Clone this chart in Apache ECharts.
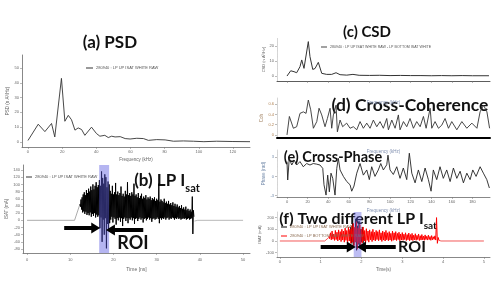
<!DOCTYPE html>
<html><head><meta charset="utf-8">
<script src="https://cdn.jsdelivr.net/npm/echarts@6/dist/echarts.min.js"></script>
<style>html,body{margin:0;padding:0;background:#fff}#c{width:498px;height:287px}</style>
</head><body><div id="c"></div>
<script>
// ---------- (a) PSD ----------
const psdF = [0,6,9.9,13.8,15.7,19.6,21.6,23.6,25.5,27.5,29.4,31.4,33.3,37.2,40.1,42.1,45,47,49,51,54,56.9,59.8,63.7,67.6,70.5,75.4,80.3,85.2,91,96.9,103,110.5,120,130];
const psdV = [1,12,7,12.5,3.4,43,14,18,15,8,9.5,8.4,4.5,10,5.7,3.9,4.5,3,3.9,3.4,3.6,2.3,2,2.5,2.3,1.1,1.6,1.4,0.5,0.7,0.5,0.2,0.5,0.3,0.2];
const psdTicksX = [0,20,40,60,80,100,120];
const psdTicksY = [0,10,20,30,40,50];

// ---------- (b) LP Isat ----------
const bPreT = [0,4.8,4.9,5.0,11,12.25];
const bPreV = [0,0,1.5,0,0,45];
const bBandStart = 12.25, bBandStep = 0.25;
const bHi = [45,58,64,72, 78,70,84,76, 88,80,94,84, 100,86,96,106, 92,98,112,96, 136,118,102,128, 120,92,108,100, 82,74,96,72, 78,104,72,80, 70,76,94,68, 74,66,82,72, 106,70,76,68, 78,72,102,68, 72,64,76,62, 68,74,60,66, 62,70,58,64, 60,66,56,62, 58,64,54,60, 56,102,52,58, 54,50,60,48, 52,46,54,44, 48,42,50,40, 46,38,44,36, 40,34,42,32, 36,30,38,28, 32,26,30,24, 66,28];
const bLo = [38,30,22,25, 18,24,15,20, 14,22,10,18, 12,20,8,16, 10,14,-22,8, -60,2,-40,6, -78,-10,-30,-8, 2,10,-6,8, 4,-12,6,0, 8,-4,6,-16, 4,8,-2,6, -8,6,2,8, 0,6,-10,4, 6,-2,4,8, 2,6,-6,4, 6,0,4,8, 2,6,-4,4, 6,2,4,8, 4,-8,6,2, 6,4,8,2, 6,8,2,6, 4,8,6,2, 6,4,8,4, 6,2,4,6, 4,6,2,4, 6,2,4,6, -38,10];
const bPostT = [38.75,39.0,39.5,50];
const bPostV = [-2,2,0,0];
const bRoi = [16.7, 19.0];
const bTicksX = [0,10,20,30,40,50];
const bTicksY = [-80,-60,-40,-20,0,20,40,60,80,100,120,140];

// ---------- (c) CSD ----------
const csdF = [0,3.6,6.8,9.4,12.6,14.3,16.5,20.7,22.3,25,27.2,30.4,33.7,38.5,43.4,47.6,51.5,58,64,70,80,90,100,110,120,130,140,150,160,170,180,196];
const csdV = [0,3.5,2.9,2.2,6.2,10.7,5.1,22.9,12.9,4.4,5,9.1,1.8,1.1,1.1,2.2,0.9,0.6,1.1,0.5,0.4,0.5,0.3,0.4,0.3,0.3,0.2,0.3,0.2,0.3,0.2,0.2];
const csdTicksY = [0,10,20];
const freqTicks = [0,20,40,60,80,100,120,140,160,180];

// ---------- (d) Cross-Coherence ----------
const cohF = [0,2.3,6.2,9.4,12.6,15.9,18.5,20.7,23,25.6,28.9,31.1,33.7,36.9,39.2,41.8,43.4,45,47.6,48.9,51.5,54,57.9,61.2,64.4,67.7,70.9,74.1,77.4,80.6,83.8,87.1,90.3,93.5,96.8,98.4,101.7,104.9,108.1,109.7,113,116.2,119.4,122.7,125.9,129.2,132.4,135,138.9,140.5,143.7,147,150.2,153.4,156.7,159.9,164.8,169.7,174.5,179.4,184.3,187.4,190.7,194,196.6];
const cohV = [0,0.36,0.13,0.16,0.42,0.45,0.42,0.68,0.49,0.13,0.26,0.52,0.39,0.16,0.32,0.52,0.13,0.39,0.58,0.06,0.29,0.16,0.23,0.13,0.16,0.1,0.26,0.13,0.23,0.13,0.29,0.16,0.26,0.13,0.32,0.1,0.29,0.13,0.39,0.1,0.26,0.16,0.32,0.13,0.26,0.16,0.36,0.13,0.52,0.13,0.26,0.13,0.19,0.32,0.13,0.26,0.1,0.26,0.13,0.23,0.13,0.45,0.58,0.45,0.13];
const cohTicksY = [0,0.2,0.4,0.6];

// ---------- (e) Cross-Phase ----------
const phF = [0,0.7,2.2,4.6,7.1,9.4,12.6,15.8,19.1,22.3,25.5,28.8,32,34.7,35.9,37.9,39.5,41.1,42.7,44.4,46.6,48.3,49.8,51.5,54.7,58,61.2,62.8,65,67.7,70.9,74.1,77.4,79.9,82.2,85.4,88.6,91,93.5,96.8,98,100,103.2,106.5,109.7,112.9,116.2,118.7,121.1,124.3,127.5,130.8,134,137.2,139.8,142,145.3,148.5,151.7,155,158.3,161.5,164.8,168,171.2,174.5,177.7,180.3,183.5,187.4,190.6,193.9,196.4];
const phV = [2.3,-0.56,2.8,1.77,2.5,1.77,2.3,1.5,2.0,1.77,2.0,1.9,1.77,1.25,-1.3,-2.9,0.2,-2.4,0.5,-0.3,-2.9,1.25,2.8,1.0,0,-0.8,-1.3,-2.3,-1.5,0.5,2.0,0.2,1.0,-0.5,1.5,0,1.0,2.0,1.0,1.8,3.3,1.0,0.3,1.5,-0.3,1.3,-0.5,3.6,0.5,-1.0,1.0,-0.8,1.3,-0.5,-2.3,1.0,-0.5,1.5,-0.3,1.0,-0.8,1.3,-0.3,0.8,-1.0,0.5,-0.5,1.0,0,1.5,0.5,-0.5,-1.8];
const phTicksY = [-3,0,3];

// ---------- (f) Two different LP Isat ----------
const fBlkStart = 1.70, fBlkStep = 0.04;
const fBlkHi = [90,120,150,110,190,130,170,100,120,80];
const fBlkLo = [0,-20,-40,-10,-80,-30,-60,-10,-20,0];
const fPreT = [0,1.1,1.2];
const fPreV = [0,0,30];
const fBandStart = 1.20, fBandStep = 0.04;
const fHi = [40,70,85,60,90, 75,95,80,100,85, 110,90,120,100,130, 150,120,165,110,140, 100,120,90,105,85, 95,80,100,75,90, 80,95,70,85,75, 90,70,80,65,85, 70,80,65,75,60, 72,58,70,55,68, 55,65,50,62,48, 60,45,55,42,52, 40,50,38,46,36, 44,200,30];
const fLo = [20,10,15,5,12, 0,10,-5,8,-10, 5,-15,0,-20,-10, -40,-10,-70,-20,-50, -15,0,-25,5,-10, 10,-5,8,0,12, 2,10,-4,8,0, 10,2,8,-2,6, 10,4,12,2,8, 6,12,4,10,2, 8,4,10,6,12, 4,8,10,6,12, 8,12,6,10,14, 8,-20,5];
const fPostT = [3.9,3.95,5];
const fPostV = [5,0,0];
const fRoi = [1.81, 2.0];
const fTicksX = [0,1,2,3,4,5];
const fTicksY = [-100,0,100,200];

const LEG = {
  psd: '280940 : LP UP ISAT WHITE RAW',
  bband: '280940 : LP UP ISAT WHITE RAW',
  csd: '280940 : LP UP ISAT WHITE RAW - LP BOTTOM ISAT WHITE',
  fblk: '280940 : LP UP ISAT WHITE RAW',
  fred: '280940 : LP BOTTOM ISAT WHITE RAW'
};

function pairs(xs, ys){ const o=[]; for(let i=0;i<Math.min(xs.length,ys.length);i++) o.push([xs[i],ys[i]]); return o; }
function zig(start, step, hi, lo){ const o=[]; for(let i=0;i<Math.min(hi.length,lo.length);i++){ o.push([start+i*step,hi[i]]); o.push([start+i*step+step/2,lo[i]]);} return o; }

const FONT = 'Lato';
const lab = (vals, color, extra) => Object.assign({show:true, customValues: vals, fontSize: 4, color: color||'#666', margin: 3, fontFamily:'Liberation Sans'}, extra||{});
const tick = (vals) => ({show:true, customValues: vals, length: 2, lineStyle:{color:'#777', width:0.5}});
const aline = (c,w,t) => ({show:true, onZero:false, lineStyle:{color:c||'#555', width:w||0.7, type:t||'solid'}});
const nm = (size,color) => ({fontSize:size||4.5, color:color||'#666', fontFamily:'Liberation Sans'});

const chart = echarts.init(document.getElementById('c'), null, {renderer:'canvas'});
const option = {
  animation:false,
  backgroundColor:'#fff',
  grid:[
    {left:22, top:55, width:228, height:92},
    {left:23, top:165, width:227, height:88},
    {left:277, top:38, width:213, height:43},
    {left:277, top:98, width:213, height:40},
    {left:277, top:150, width:213, height:47},
    {left:277, top:212, width:213, height:45}
  ],
  xAxis:[
    {type:'value', gridIndex:0, min:-3.5, max:130, axisLine:aline(), axisTick:tick(psdTicksX), axisLabel:lab(psdTicksX), splitLine:{show:false},
      name:'Frequency (kHz)', nameLocation:'middle', nameGap:10, nameTextStyle:nm(4.5)},
    {type:'value', gridIndex:1, min:-0.93, max:51.6, axisLine:aline(), axisTick:tick(bTicksX), axisLabel:lab(bTicksX,null,{margin:5}), splitLine:{show:false},
      name:'Time [ns]', nameLocation:'middle', nameGap:14, nameTextStyle:nm(5)},
    {type:'value', gridIndex:2, min:-9.7, max:197, axisLine:aline('#333',0.8), axisTick:tick(freqTicks), axisLabel:{show:false}, splitLine:{show:false},
      name:'Frequency (kHz)', nameLocation:'middle', nameGap:19, nameTextStyle:nm(4.5,'#8090b0')},
    {type:'value', gridIndex:3, min:-9.7, max:197, axisLine:aline('#000',2), axisTick:{show:false}, axisLabel:{show:false}, splitLine:{show:false},
      name:'Frequency (kHz)', nameLocation:'middle', nameGap:11, nameTextStyle:nm(4.5,'#8090b0')},
    {type:'value', gridIndex:4, min:-9.7, max:197, axisLine:aline(), axisTick:tick(freqTicks), axisLabel:lab(freqTicks), splitLine:{show:false},
      name:'Frequency (kHz)', nameLocation:'middle', nameGap:11, nameTextStyle:nm(4.5,'#8090b0')},
    {type:'value', gridIndex:5, min:-0.07, max:5.15, axisLine:aline(), axisTick:tick(fTicksX), axisLabel:lab(fTicksX), splitLine:{show:false},
      name:'Time(s)', nameLocation:'middle', nameGap:10, nameTextStyle:nm(4.5)}
  ],
  yAxis:[
    {type:'value', gridIndex:0, min:-3.4, max:58.8, axisLine:aline(), axisTick:tick(psdTicksY), axisLabel:lab(psdTicksY), splitLine:{show:false},
      name:'PSD (n A²/Hz)', nameLocation:'middle', nameGap:11, nameTextStyle:nm(4.5)},
    {type:'value', gridIndex:1, min:-91, max:154, axisLine:aline(), axisTick:tick(bTicksY), axisLabel:lab(bTicksY), splitLine:{show:false},
      name:'ISAT (mA)', nameLocation:'middle', nameGap:14, nameTextStyle:nm(4.5)},
    {type:'value', gridIndex:2, min:-3.3, max:25.3, axisLine:aline('#bbb',0.6,'dotted'), axisTick:tick(csdTicksY), axisLabel:lab(csdTicksY), splitLine:{show:false},
      name:'CSD (n A²/Hz)', nameLocation:'middle', nameGap:10, nameTextStyle:nm(4)},
    {type:'value', gridIndex:3, min:-0.06, max:0.72, axisLine:aline('#bbb',0.6,'dotted'), axisTick:tick(cohTicksY), axisLabel:lab(cohTicksY,'#b08050'), splitLine:{show:false},
      name:'Coh', nameLocation:'middle', nameGap:11, nameTextStyle:nm(4.5,'#a08060')},
    {type:'value', gridIndex:4, min:-3.2, max:4.1, axisLine:aline('#bbb',0.6,'dotted'), axisTick:tick(phTicksY), axisLabel:lab(phTicksY,'#7088a8'), splitLine:{show:false},
      name:'Phase (rad)', nameLocation:'middle', nameGap:10, nameTextStyle:nm(4.5,'#7088a8')},
    {type:'value', gridIndex:5, min:-137, max:248, axisLine:aline('#bbb',0.6,'dotted'), axisTick:tick(fTicksY), axisLabel:lab(fTicksY), splitLine:{show:false},
      name:'ISAT (mA)', nameLocation:'middle', nameGap:11, nameTextStyle:nm(4)}
  ],
  legend:[
    {data:['psd'], left:86, top:66, icon:'rect', itemWidth:7, itemHeight:1, padding:0, formatter:n=>LEG[n], textStyle:{fontSize:4, color:'#555', padding:[0,0,0,-2]}},
    {data:['bband'], left:26, top:175, icon:'rect', itemWidth:6, itemHeight:1, padding:0, formatter:n=>LEG[n], textStyle:{fontSize:4, color:'#555', padding:[0,0,0,-2]}},
    {data:['csd'], left:321, top:45, icon:'rect', itemWidth:6, itemHeight:1, padding:0, formatter:n=>LEG[n], textStyle:{fontSize:3.6, color:'#555', padding:[0,0,0,-2]}},
    {data:['fblk','fred'], left:281, top:225, orient:'vertical', itemGap:5, icon:'rect', itemWidth:6, itemHeight:1, padding:0, formatter:n=>LEG[n], textStyle:{fontSize:4, color:'#8a6a50', padding:[0,0,0,-2]}}
  ],
  series:[
    {name:'psd', type:'line', xAxisIndex:0, yAxisIndex:0, data:pairs(psdF,psdV), showSymbol:false, lineStyle:{color:'#333', width:0.9}, itemStyle:{color:'#333'}},
    {name:'bpre', type:'line', xAxisIndex:1, yAxisIndex:1, data:pairs(bPreT,bPreV), showSymbol:false, lineStyle:{color:'#888', width:0.7}},
    {name:'bband', type:'line', xAxisIndex:1, yAxisIndex:1, data:zig(bBandStart,bBandStep,bHi,bLo), showSymbol:false, lineStyle:{color:'#000', width:1}, itemStyle:{color:'#333'}},
    {name:'bpost', type:'line', xAxisIndex:1, yAxisIndex:1, data:pairs(bPostT,bPostV), showSymbol:false, lineStyle:{color:'#999', width:0.7}},
    {name:'broi', type:'line', xAxisIndex:1, yAxisIndex:1, data:[], z:10,
      markArea:{silent:true, z:10, itemStyle:{color:'rgba(90,90,225,0.45)'}, data:[[{xAxis:bRoi[0]},{xAxis:bRoi[1]}]]},
      markLine:{silent:true, z:11, symbol:['none','triangle'], symbolSize:[11,9], label:{show:false}, lineStyle:{color:'#000', width:4, type:'solid'},
        data:[[{coord:[8.6,-21.6]},{coord:[15.9,-21.6]}],[{coord:[26.9,-27]},{coord:[19.3,-27]}]]}},
    {name:'csd', type:'line', xAxisIndex:2, yAxisIndex:2, data:pairs(csdF,csdV), showSymbol:false, lineStyle:{color:'#333', width:1}, itemStyle:{color:'#444'}},
    {name:'coh', type:'line', xAxisIndex:3, yAxisIndex:3, data:pairs(cohF,cohV), showSymbol:false, lineStyle:{color:'#333', width:0.9}},
    {name:'ph', type:'line', xAxisIndex:4, yAxisIndex:4, data:pairs(phF,phV), showSymbol:false, lineStyle:{color:'#222', width:0.9}},
    {name:'fblk', type:'line', xAxisIndex:5, yAxisIndex:5, data:zig(fBlkStart,fBlkStep,fBlkHi,fBlkLo), showSymbol:false, lineStyle:{color:'#000', width:0.8}, itemStyle:{color:'#000'}},
    {name:'fpre', type:'line', xAxisIndex:5, yAxisIndex:5, data:pairs(fPreT,fPreV), showSymbol:false, lineStyle:{color:'#f03030', width:0.8}},
    {name:'fred', type:'line', xAxisIndex:5, yAxisIndex:5, data:zig(fBandStart,fBandStep,fHi,fLo), showSymbol:false, lineStyle:{color:'#ff0000', width:1}, itemStyle:{color:'#ff0000'}},
    {name:'fpost', type:'line', xAxisIndex:5, yAxisIndex:5, data:pairs(fPostT,fPostV), showSymbol:false, lineStyle:{color:'#f03030', width:0.8}},
    {name:'froi', type:'line', xAxisIndex:5, yAxisIndex:5, data:[], z:10,
      markArea:{silent:true, z:10, itemStyle:{color:'rgba(90,90,225,0.4)'}, data:[[{xAxis:fRoi[0]},{xAxis:fRoi[1]}]]},
      markLine:{silent:true, z:11, symbol:['none','triangle'], symbolSize:[11,9], label:{show:false}, lineStyle:{color:'#000', width:4, type:'solid'},
        data:[[{coord:[1.0,-51]},{coord:[1.75,-51]}],[{coord:[2.84,-51]},{coord:[2.0,-51]}]]}}
  ],
  graphic:[
    {type:'text', x:110, y:43, style:{text:'(a) PSD', font:'bold 17px Lato', fill:'#111', align:'center', verticalAlign:'middle'}},
    {type:'text', x:167, y:181, style:{text:'{m|(b) LP I}{s|sat}', align:'center', verticalAlign:'middle', rich:{m:{fontSize:17, fontWeight:'bold', fontFamily:FONT, fill:'#111', lineHeight:26, verticalAlign:'middle'}, s:{fontSize:11, fontWeight:'bold', fontFamily:FONT, fill:'#111', lineHeight:26, verticalAlign:'bottom'}}}},
    {type:'text', x:133, y:243, style:{text:'ROI', font:'bold 18px Lato', fill:'#111', align:'center', verticalAlign:'middle'}},
    {type:'text', x:367, y:32, style:{text:'(c) CSD', font:'bold 15px Lato', fill:'#111', align:'center', verticalAlign:'middle'}},
    {type:'text', x:410, y:105, style:{text:'(d) Cross-Coherence', font:'bold 17.5px Lato', fill:'#111', align:'center', verticalAlign:'middle'}},
    {type:'text', x:333, y:157, style:{text:'(e) Cross-Phase', font:'bold 14.5px Lato', fill:'#111', align:'center', verticalAlign:'middle'}},
    {type:'text', x:358, y:219, style:{text:'{m|(f) Two different LP I}{s|sat}', align:'center', verticalAlign:'middle', rich:{m:{fontSize:16, fontWeight:'bold', fontFamily:FONT, fill:'#111', lineHeight:24, verticalAlign:'middle'}, s:{fontSize:10, fontWeight:'bold', fontFamily:FONT, fill:'#111', lineHeight:24, verticalAlign:'bottom'}}}},
    {type:'text', x:412, y:247, style:{text:'ROI', font:'bold 16px Lato', fill:'#111', align:'center', verticalAlign:'middle'}}
  ]
};
chart.setOption(option);
</script></body></html>
